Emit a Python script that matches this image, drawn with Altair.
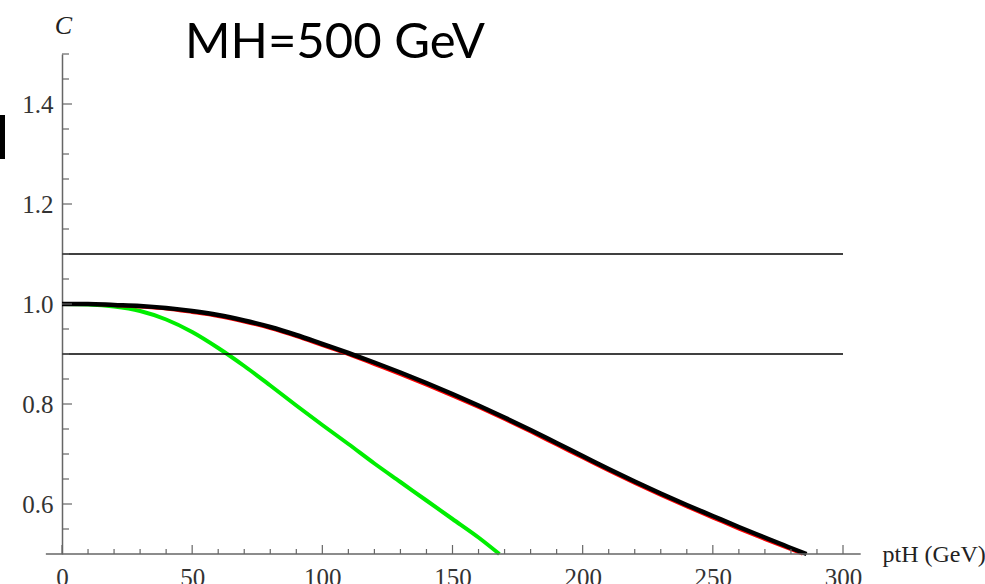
import altair as alt
import pandas as pd

# ---- data ----
pt_black = [0, 10, 20, 30, 40, 50, 60, 70, 80, 90, 100, 110, 120, 130, 140, 150,
            160, 170, 180, 190, 200, 210, 220, 230, 240, 250, 260, 270, 280, 286]
c_black = [1.000, 1.000, 0.998, 0.996, 0.992, 0.986, 0.978, 0.967, 0.954, 0.938,
           0.920, 0.902, 0.883, 0.863, 0.842, 0.820, 0.797, 0.773, 0.748, 0.722,
           0.696, 0.670, 0.645, 0.621, 0.598, 0.576, 0.554, 0.533, 0.512, 0.500]

pt_red = [0, 10, 20, 30, 40, 50, 60, 70, 80, 90, 100, 110, 120, 130, 140, 150,
          160, 170, 180, 190, 200, 210, 220, 230, 240, 250, 260, 270, 280, 284.5]
c_red = [1.000, 0.9995, 0.997, 0.994, 0.990, 0.983, 0.975, 0.964, 0.951, 0.935,
         0.917, 0.899, 0.879, 0.859, 0.838, 0.816, 0.793, 0.769, 0.744, 0.718,
         0.692, 0.666, 0.641, 0.617, 0.594, 0.572, 0.550, 0.529, 0.509, 0.500]

pt_green = [0, 10, 20, 30, 40, 50, 60, 70, 80, 90, 100, 110, 120, 130, 140, 150,
            160, 168]
c_green = [1.000, 0.999, 0.995, 0.986, 0.969, 0.944, 0.912, 0.876, 0.837, 0.797,
           0.758, 0.720, 0.681, 0.644, 0.607, 0.570, 0.533, 0.500]

ref_levels = [0.9, 1.1]

x_major = [0, 50, 100, 150, 200, 250, 300]
x_minor = [10, 20, 30, 40, 60, 70, 80, 90, 110, 120, 130, 140, 160, 170, 180, 190,
           210, 220, 230, 240, 260, 270, 280, 290]
y_major = [0.6, 0.8, 1.0, 1.2, 1.4]
y_minor = [0.55, 0.65, 0.7, 0.75, 0.85, 0.9, 0.95, 1.05, 1.1, 1.15, 1.25, 1.3,
           1.35, 1.45, 1.5]

title_text = "MH=500 GeV"
x_title = "ptH (GeV)"
y_title = "C"

# ---- tables ----
black_df = pd.DataFrame({"pt": pt_black, "C": c_black})
red_df = pd.DataFrame({"pt": pt_red, "C": c_red})
green_df = pd.DataFrame({"pt": pt_green, "C": c_green})
ref_df = pd.DataFrame({"C": ref_levels})
xmaj_df = pd.DataFrame({"pt": x_major})
xmin_df = pd.DataFrame({"pt": x_minor})
ymaj_df = pd.DataFrame({"C": y_major})
ymin_df = pd.DataFrame({"C": y_minor})
dummy = pd.DataFrame({"a": [0]})

W, H = 781, 500
AX = "#666666"
SERIF = "Liberation Serif"

xs = alt.Scale(domain=[0, 300], nice=False, zero=False)
ys = alt.Scale(domain=[0.5, 1.5], nice=False, zero=False)

x_axis = alt.Axis(values=x_major, format="d", domain=False, ticks=False, grid=False,
                  labelFont=SERIF, labelFontSize=25, labelColor="#333333",
                  labelPadding=11, labelFlush=False, labelOverlap=False,
                  title=x_title, titleFont=SERIF, titleFontSize=24,
                  titleFontWeight="normal", titleColor="#222222",
                  titleX=820, titleY=0, titleAlign="left", titleBaseline="middle",
                  titleAngle=0)
y_axis = alt.Axis(values=y_major, format=".1f", domain=True, domainColor=AX,
                  domainWidth=1.5, ticks=False, grid=False,
                  labelFont=SERIF, labelFontSize=25, labelColor="#333333",
                  labelPadding=9, labelFlush=False, labelOverlap=False,
                  title=y_title, titleFont=SERIF, titleFontSize=26,
                  titleFontStyle="italic", titleFontWeight="normal",
                  titleColor="#222222", titleX=1, titleY=-29, titleAngle=0,
                  titleAlign="center", titleBaseline="middle")

green = alt.Chart(green_df).mark_line(color="#00ee00", strokeWidth=4,
                                      interpolate="monotone").encode(
    x=alt.X("pt:Q", scale=xs, axis=x_axis),
    y=alt.Y("C:Q", scale=ys, axis=y_axis),
)
red = alt.Chart(red_df).mark_line(color="#ff0000", strokeWidth=3,
                                  interpolate="monotone").encode(
    x=alt.X("pt:Q"), y=alt.Y("C:Q"))
black = alt.Chart(black_df).mark_line(color="#000000", strokeWidth=4.5,
                                      interpolate="monotone").encode(
    x=alt.X("pt:Q"), y=alt.Y("C:Q"))

hlines = alt.Chart(ref_df).mark_rule(color="#000000", strokeWidth=1.6).encode(
    y=alt.Y("C:Q"), x=alt.datum(0), x2=alt.datum(300))

x_line = alt.Chart(dummy).mark_rule(color=AX, strokeWidth=1.5).encode(
    y=alt.datum(0.5), x=alt.datum(-6.2), x2=alt.datum(306.8))

xmaj = alt.Chart(xmaj_df).mark_rule(color=AX, strokeWidth=1.2).encode(
    x=alt.X("pt:Q"), y=alt.value(H), y2=alt.value(H - 9))
xmin = alt.Chart(xmin_df).mark_rule(color=AX, strokeWidth=1.2).encode(
    x=alt.X("pt:Q"), y=alt.value(H), y2=alt.value(H - 5))
ymaj = alt.Chart(ymaj_df).mark_rule(color=AX, strokeWidth=1.2).encode(
    y=alt.Y("C:Q"), x=alt.value(0), x2=alt.value(10))
ymin = alt.Chart(ymin_df).mark_rule(color=AX, strokeWidth=1.2).encode(
    y=alt.Y("C:Q"), x=alt.value(0), x2=alt.value(7))

bar = alt.Chart(dummy).mark_rule(color="#000000", strokeWidth=5).encode(
    x=alt.value(-59.5), y=alt.value(61), y2=alt.value(105))

title = alt.Chart(dummy).mark_text(
    text=title_text, font="Lato", fontSize=49,
    color="#000000", align="left", baseline="alphabetic"
).encode(x=alt.value(123), y=alt.value(4))

chart = alt.layer(
    green, hlines, red, black, x_line, xmaj, xmin, ymaj, ymin, bar, title
).properties(
    width=W, height=H,
    autosize=alt.AutoSizeParams(type="none"),
    padding={"left": 62, "top": 54, "right": 142, "bottom": 30},
    background="white",
).configure_view(stroke=None)

chart.save("out.html", embed_options={"renderer": "svg", "actions": False})
